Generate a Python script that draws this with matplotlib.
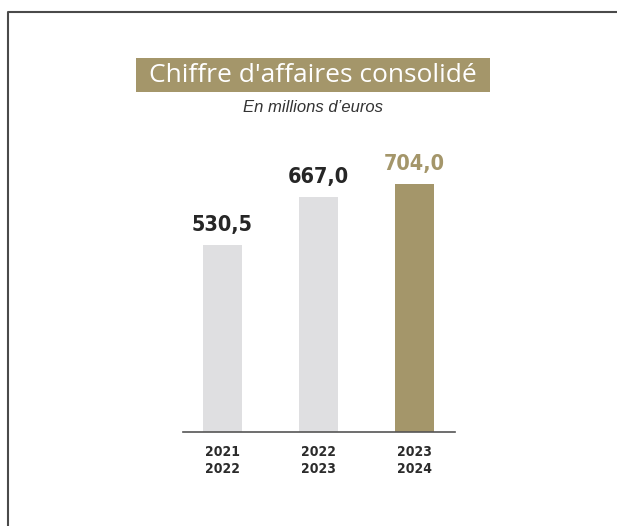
import matplotlib
matplotlib.use('Agg')
import matplotlib.pyplot as plt
from matplotlib.patches import Rectangle
from matplotlib.lines import Line2D

# données
periods = ['2021\n2022', '2022\n2023', '2023\n2024']
revenue = [530.5, 667.0, 704.0]
labels = ['530,5', '667,0', '704,0']

gold = '#a4966a'
grey = '#dfdfe1'
bar_colors = [grey, grey, gold]
label_colors = ['#262626', '#262626', gold]
narrow = ['Liberation Sans Narrow', 'DejaVu Sans']

W, H = 617, 526
fig = plt.figure(figsize=(W / 100, H / 100), dpi=100)

# axe placé en pixels : base à y=432, de x=183 à x=455
left, right, base, top = 183, 455, 432, 12
ax = fig.add_axes([left / W, (H - base) / H, (right - left) / W, (base - top) / H])
ax.set_ylim(0, (base - top) / 0.3525)
ax.set_xlim(-0.411, -0.411 + (right - left) / 96)

x = list(range(len(revenue)))
ax.bar(x, revenue, width=0.406, color=bar_colors)
for xi, v, lab, c in zip(x, revenue, labels, label_colors):
    ax.annotate(lab, (xi, v), xytext=(0, 7), textcoords='offset points',
                ha='center', va='bottom', fontsize=15.5, fontweight='bold',
                fontstretch='condensed', color=c, family=narrow)

for s in ['top', 'right', 'left']:
    ax.spines[s].set_visible(False)
ax.spines['bottom'].set_color('#555555')
ax.spines['bottom'].set_linewidth(1.2)
ax.set_yticks([])
ax.set_xticks(x)
ax.set_xticklabels(periods, fontsize=10, fontweight='bold', color='#2b2b2b',
                   fontstretch='condensed', family=narrow, linespacing=1.35)
ax.tick_params(axis='x', length=0, pad=9)
ax.patch.set_alpha(0)

# cadre (gauche + haut)
fig.add_artist(Line2D([8 / W, 8 / W, 1], [0, 1 - 12 / H, 1 - 12 / H],
                      transform=fig.transFigure, color='#4a4a4a', lw=1.5))

# bandeau du titre
fig.add_artist(Rectangle((136 / W, 1 - 92 / H), (490 - 136) / W, 34 / H,
                         transform=fig.transFigure, color=gold, lw=0))
fig.text(313 / W, 1 - 75 / H, "Chiffre d'affaires consolidé", ha='center', va='center',
         color='white', fontsize=19, family=['Open Sans', 'DejaVu Sans'])
fig.text(313 / W, 1 - 108 / H, 'En millions d\u2019euros', ha='center', va='center',
         color='#333333', fontsize=12, style='italic',
         family=['Liberation Sans', 'DejaVu Sans'])

plt.savefig('out.png', dpi=100)
